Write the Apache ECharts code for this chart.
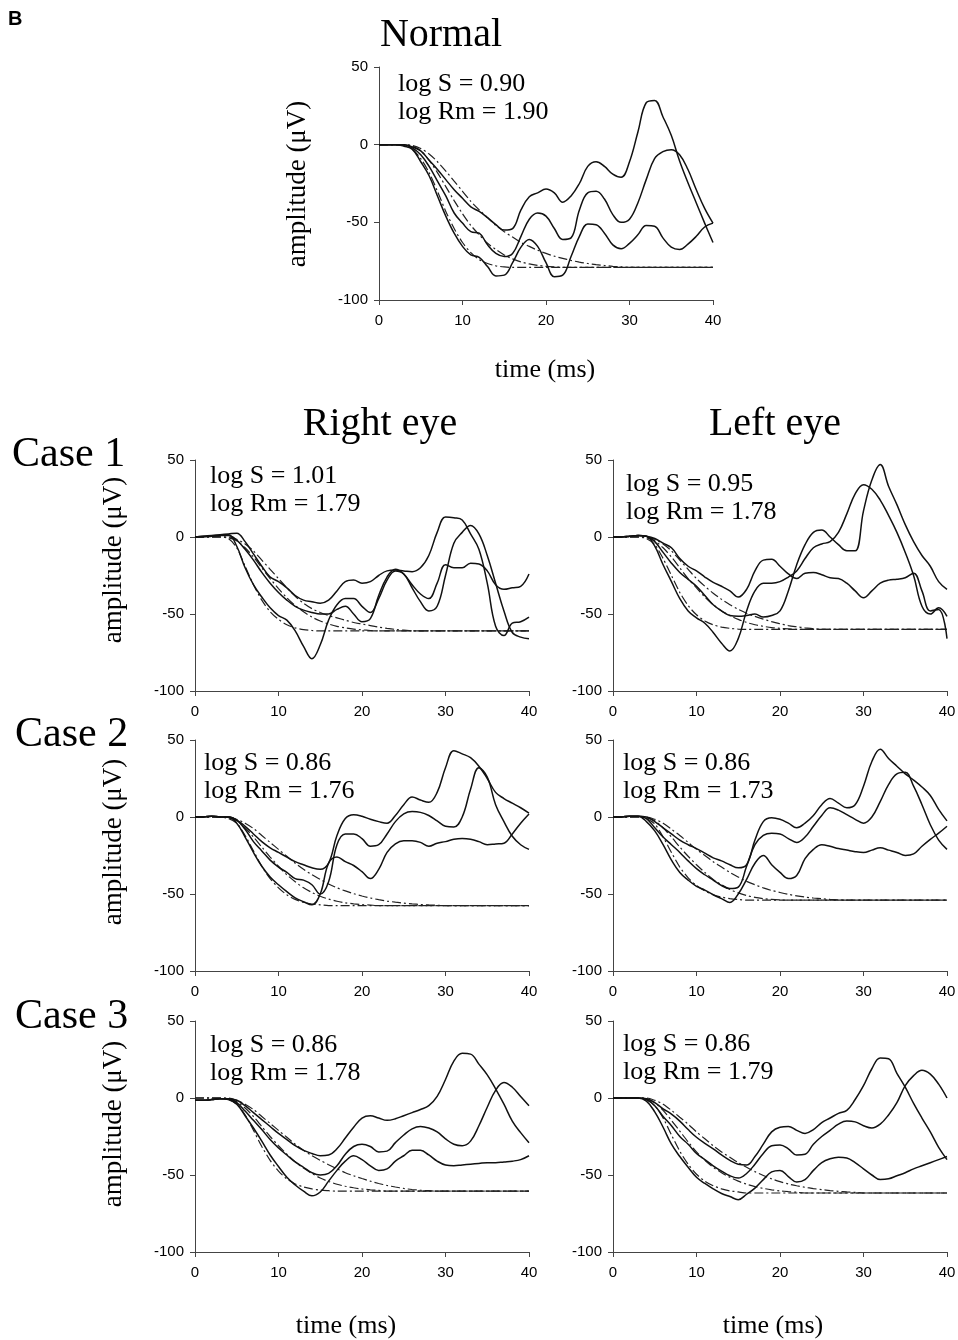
<!DOCTYPE html>
<html lang="en">
<head>
<meta charset="UTF-8">
<title>a-wave fits: normal and cases 1-3</title>
<script src="https://cdn.jsdelivr.net/npm/echarts@6/dist/echarts.min.js"></script>
<style>
  html, body { margin: 0; padding: 0; background: #fff; }
  #chart { width: 958px; height: 1340px; }
</style>
</head>
<body>
<div id="chart"></div>
<script>
  // time (ms), one sample per ms
  var timeMs = [0,1,2,3,4,5,6,7,8,9,10,11,12,13,14,15,16,17,18,19,20,
                21,22,23,24,25,26,27,28,29,30,31,32,33,34,35,36,37,38,39,40];

  // ---- Normal ----
  var normA = [0,0,0,-1,-3,-11,-20,-33,-46,-57,-65.5,-71,-72.5,-78.5,-84.5,-84,-76,-66,-61,-65.5,-76,
               -85,-84,-72,-59,-51,-51.5,-57,-64.5,-67,-63.5,-58,-52,-52.5,-60,-66,-67.5,-64,-59,-53,-50.5];
  var normB = [0,0,0,0,-2,-6.5,-14,-23.5,-33,-44,-50.5,-56,-57,-64.5,-70,-72,-70,-59,-48,-44,-46,
               -54,-61,-60,-42,-31,-30,-35,-45,-50,-48,-37.5,-22.5,-9,-4.5,-3.2,-6.5,-16,-29,-41,-50.5];
  var normC = [0,0,0,0,-1.5,-4,-10,-16,-22.5,-29,-34.5,-40,-43,-47,-51.5,-55,-54,-42,-33.5,-31,-28.5,
               -31,-37,-33,-25,-14,-11,-14,-19,-21,-11,8,27,28.5,18,6,-10.5,-24.5,-37.5,-50.5,-63];
  var normFitA = [0,0,0,-0.5,-3,-9,-18,-30,-43,-54,-63,-69.5,-74,-76.5,-78,-78.7,
                  -79,-79,-79,-79,-79,-79,-79,-79,-79,-79,-79,-79,-79,-79,-79,
                  -79,-79,-79,-79,-79,-79,-79,-79,-79,-79];
  var normFitB = [0,0,0,0,-1,-4,-10,-18,-27,-36,-44.5,-52,-58,-63.5,-67.5,-71,-73.5,-75.5,-76.8,-77.7,-78.3,-78.7,
                  -79,-79,-79,-79,-79,-79,-79,-79,-79,-79,-79,-79,-79,-79,-79,-79,-79,-79,-79];
  var normFitC = [0,0,0,0,-0.5,-2.5,-6,-11,-17,-23.5,-30,-36.5,-42,-47,-52,-56,-59.5,-63,-65.5,-68,
                  -70,-71.8,-73.2,-74.5,-75.6,-76.5,-77.2,-77.8,-78.3,-78.7,
                  -79,-79,-79,-79,-79,-79,-79,-79,-79,-79,-79];

  // ---- Case 1, right eye ----
  var c1rA = [0,0.5,0.5,1,1.5,-6,-20,-31,-39,-46,-51,-54,-61,-71,-79,-70,-54,-44,-40,-40,-45,
              -49,-40,-28,-22,-24,-33,-42,-48,-45,-25,-4,3,7.5,2,-12,-30,-48,-62,-65,-66];
  var c1rB = [0,0,0.5,1,1,-2,-8,-15,-23,-30,-36,-41,-45,-47.5,-49,-50,-50,-47,-45,-50,-55,
              -53,-38,-26,-21,-24,-31,-37,-40,-30,-18,-20,-20,-17,-17.5,-22,-31,-34,-33,-32,-24];
  var c1rC = [0,0.5,1,1.5,2,2.5,-3,-11,-19,-26,-29,-33,-38,-41,-42,-43,-41,-35,-29,-28,-30,
              -29,-25,-22,-21.5,-22,-22.5,-20,-12,3,13,12.5,11,2,-8,-30,-58,-64,-56,-55,-52];
  var c1rFitA = [0,0,0,0,-1,-7,-19,-31,-41,-48.5,-53.5,-57,-59,-60.2,-60.7,
                 -61,-61,-61,-61,-61,-61,-61,-61,-61,-61,-61,-61,-61,
                 -61,-61,-61,-61,-61,-61,-61,-61,-61,-61,-61,-61,-61];
  var c1rFitB = [0,0,0,0,-0.5,-2.5,-7,-13,-20,-27,-33.5,-39.5,-44.5,-48.5,-52,-54.5,-56.5,-58,-59,-59.8,-60.3,-60.7,
                 -61,-61,-61,-61,-61,-61,-61,-61,-61,-61,-61,-61,-61,-61,-61,-61,-61,-61,-61];
  var c1rFitC = [0,0,0,0,0,-1.5,-4.5,-9,-15,-21,-27,-33,-38.5,-43,-46.5,-49,-51,-52.5,-54,-55.5,
                 -56.5,-57.5,-58.5,-59.3,-60,-60.5,
                 -61,-61,-61,-61,-61,-61,-61,-61,-61,-61,-61,-61,-61,-61,-61];

  // ---- Case 1, left eye ----
  var c1lA = [0,0,0.5,1,0.5,-6,-18,-29,-40,-48,-52.5,-56,-62,-69,-74,-66,-48,-35,-30,-30,-29,
              -26,-22,-14,-7,-4.5,-3,3,15,28,34,31,24,14,3,-10,-25,-45,-50,-46,-51.5];
  var c1lB = [0,0,0.5,1,0.5,-3,-10,-17,-23,-27.5,-32,-38,-44,-48,-51,-51.5,-51,-50,-52,-51,-48,
              -35,-18,-5,3,4.5,0,-5,-9,-9,17,37,47,33,21,8,-3,-12,-19,-29,-34];
  var c1lC = [0,0,0.5,1,0.5,-1,-4,-7,-14,-19,-22,-26,-29.5,-32,-35,-39,-34,-22,-15,-14.5,-19,
              -24,-27,-23.5,-23,-24.5,-26.5,-27,-30,-35,-39.5,-35,-30,-28,-27.5,-26.5,-23.5,-35,-48,-47,-66];
  var c1lFitA = [0,0,0,0,-1,-5,-14,-25,-36,-44.5,-50.5,-54.5,-57,-58.5,-59.3,-59.8,
                 -60,-60,-60,-60,-60,-60,-60,-60,-60,-60,-60,-60,-60,-60,-60,
                 -60,-60,-60,-60,-60,-60,-60,-60,-60,-60];
  var c1lFitB = [0,0,0,0,-0.5,-2.5,-7,-13,-20,-27,-33,-39,-44,-48,-51,-53.5,-55.5,-57,-58,-58.8,-59.3,-59.7,
                 -60,-60,-60,-60,-60,-60,-60,-60,-60,-60,-60,-60,-60,-60,-60,-60,-60,-60,-60];
  var c1lFitC = [0,0,0,0,0,-1.5,-4.5,-9,-15,-21,-27,-32,-36.5,-40.5,-44,-47,-49.5,-51.5,-53.3,-55,
                 -56.3,-57.5,-58.3,-59,-59.5,
                 -60,-60,-60,-60,-60,-60,-60,-60,-60,-60,-60,-60,-60,-60,-60,-60];

  // ---- Case 2, right eye ----
  var c2rA = [0,0,0.5,0,0,-4,-13,-23,-32,-39,-44,-48.5,-52.5,-55,-57,-50,-30,-26,-29,-31.5,-35.5,
              -40,-34,-23,-17.5,-15.5,-15.5,-16.5,-19,-17,-16,-14.5,-14,-14.5,-16,-18,-17.5,-17,-11,-4,2];
  var c2rB = [0,0,0.5,0,0,-2,-8,-16,-22,-28,-32.5,-36,-40,-41,-44,-50,-42,-18,-11,-11,-14,
              -19,-18,-11,-3,2,3.5,3,1,-2.5,-6,-6.5,0,18,32,26,8,-3,-12.5,-18,-21];
  var c2rC = [0,0,0.5,0,0,-2,-6,-11,-16,-20,-23,-26,-29,-31,-33,-34,-30,-12,-1,1.5,0.5,
              -1.5,-3,-4,1,8,13,11,9.5,16,32,43,41,38.5,33,25,16,12,9,6,2.5];
  var c2rFitA = [0,0,0,0,-1,-4,-12,-22,-32,-40,-46,-50.5,-53.5,-55.5,-56.5,-57,
                 -57.5,-57.5,-57.5,-57.5,-57.5,-57.5,-57.5,-57.5,-57.5,-57.5,-57.5,-57.5,-57.5,-57.5,-57.5,
                 -57.5,-57.5,-57.5,-57.5,-57.5,-57.5,-57.5,-57.5,-57.5,-57.5];
  var c2rFitB = [0,0,0,0,-0.5,-2.5,-7,-13,-19.5,-26,-32,-37.5,-42,-46,-49,-51.5,-53.3,-54.7,-55.7,-56.4,-56.9,-57.2,
                 -57.5,-57.5,-57.5,-57.5,-57.5,-57.5,-57.5,-57.5,-57.5,-57.5,-57.5,-57.5,-57.5,-57.5,-57.5,
                 -57.5,-57.5,-57.5,-57.5];
  var c2rFitC = [0,0,0,0,0,-1.5,-4,-7.5,-12,-16.5,-21,-25.5,-30,-34,-37.5,-40.5,-43.5,-46,-48,-49.8,
                 -51.3,-52.6,-53.7,-54.6,-55.3,-55.9,-56.4,-56.8,-57.1,-57.3,
                 -57.5,-57.5,-57.5,-57.5,-57.5,-57.5,-57.5,-57.5,-57.5,-57.5,-57.5];

  // ---- Case 2, left eye ----
  var c2lA = [0,0,0.5,0.5,-3,-9,-18,-28,-36,-41,-45,-47.5,-50.5,-53,-55.5,-50,-40.5,-30,-25,-31,-36,
              -40,-38,-27,-21,-18,-19,-20.5,-21.5,-22.5,-23,-21.5,-20,-21.5,-23,-25,-24,-19,-14.5,-10.5,-6];
  var c2lB = [0,0,0.5,0.5,-1,-7,-13,-18,-23,-28.5,-33.5,-37.5,-41,-44.5,-46.5,-45.5,-32,-18,-12,-10.5,-11,
              -14,-16.5,-13,-6,1,6,4.5,1.5,-1.5,-4,0,10,21,28,29,20,8,-5,-15,-21];
  var c2lC = [0,0,0.5,0.5,0,-3,-7,-11,-15,-18,-20.5,-23.5,-26.5,-28.5,-31,-33,-31,-15,-3,-0.5,-1.5,
              -4,-7,-4,1,8,12,9,6,8,20,36,44,38,33,28,24,19.5,14,5,-2.5];
  var c2lFitA = [0,0,0,0,-1,-4.5,-13,-23,-32.5,-39.5,-44.5,-48,-50.5,-52,-53,-53.6,
                 -54,-54,-54,-54,-54,-54,-54,-54,-54,-54,-54,-54,-54,-54,-54,
                 -54,-54,-54,-54,-54,-54,-54,-54,-54,-54];
  var c2lFitB = [0,0,0,0,-0.5,-2.5,-7,-13,-19.5,-25.5,-31,-36,-40.5,-44,-47,-49.3,-51,-52.2,-53,-53.5,-53.8,
                 -54,-54,-54,-54,-54,-54,-54,-54,-54,-54,-54,-54,-54,-54,-54,-54,-54,-54,-54,-54];
  var c2lFitC = [0,0,0,0,0,-1.5,-4,-8,-12,-16.5,-21,-25,-29,-32.5,-36,-39,-41.8,-44,-46,-47.7,
                 -49,-50.2,-51.2,-52,-52.6,-53.1,-53.5,-53.8,
                 -54,-54,-54,-54,-54,-54,-54,-54,-54,-54,-54,-54,-54];

  // ---- Case 3, right eye ----
  var c3rA = [-1.5,-1.5,-1,-0.5,-1,-4,-11.5,-19.5,-28,-37,-44.5,-51.5,-56.5,-60.5,-63.5,-61,-54,-47,-41,-37.5,-40,
              -44,-47,-46,-41,-37.5,-34,-34,-37,-41,-43.5,-44,-43.5,-43,-42.5,-42,-42,-41.5,-41,-40,-37.5];
  var c3rB = [-1.5,-1.5,-1,-0.5,-0.5,-3,-8.5,-14.5,-20.5,-27,-32.5,-37,-41.5,-45,-48.5,-50,-49,-44,-36.5,-31.5,-30,
              -31.5,-35,-34.5,-29,-24,-20,-18.5,-19.5,-22,-26.5,-30,-31,-28,-18,-6,5,10,7,1,-5];
  var c3rC = [-1.5,-1.5,-1,-0.5,-0.5,-1.5,-5,-9.5,-14,-18.5,-23,-27,-31,-34,-36,-37.5,-37,-33,-26,-19,-13,
              -11.5,-13,-14.5,-13.5,-11.5,-9.5,-7.5,-5,1,12,24,29,28.5,22,15,6,-4,-15,-22.5,-29];
  var c3rFitA = [0,0,0,0,-1,-4,-11,-21,-31.5,-40.5,-47.5,-52.5,-55.8,-57.8,-59,-59.8,-60.2,
                 -60.5,-60.5,-60.5,-60.5,-60.5,-60.5,-60.5,-60.5,-60.5,-60.5,-60.5,-60.5,
                 -60.5,-60.5,-60.5,-60.5,-60.5,-60.5,-60.5,-60.5,-60.5,-60.5,-60.5,-60.5];
  var c3rFitB = [0,0,0,0,-0.5,-2.5,-6.5,-12,-18.5,-25,-31,-36.5,-41.5,-45.5,-49,-52,-54.2,-56,-57.3,-58.3,
                 -59.1,-59.6,-60,
                 -60.5,-60.5,-60.5,-60.5,-60.5,-60.5,-60.5,-60.5,-60.5,-60.5,-60.5,-60.5,-60.5,-60.5,-60.5,
                 -60.5,-60.5,-60.5];
  var c3rFitC = [0,0,0,0,0,-1.5,-4,-7.5,-12,-16.5,-21,-25.5,-30,-34,-37.5,-40.5,-43.3,-46,-48.5,-50.5,
                 -52.3,-54,-55.5,-56.8,-57.8,-58.7,-59.4,-59.9,-60.2,
                 -60.5,-60.5,-60.5,-60.5,-60.5,-60.5,-60.5,-60.5,-60.5,-60.5,-60.5,-60.5];

  // ---- Case 3, left eye ----
  var c3lA = [0,0,0,0,-2,-9,-19,-30,-38,-45,-51.5,-55.5,-59,-62,-64,-66,-62.5,-58.5,-53,-48,-47,
              -51,-54.5,-53,-47,-42,-39.5,-38.5,-39,-42,-46,-50,-53,-52.5,-50.5,-48.5,-46,-44,-42,-40,-38];
  var c3lB = [0,0,0,0,-1,-5,-12,-18,-25,-30,-36,-40,-44,-47.5,-50.5,-52,-49,-43,-36,-31,-30.5,
              -33,-37,-36.5,-30,-25,-21,-17,-15,-15.5,-18,-19.5,-17,-11,-3,8,14.5,18,15.5,9,0];
  var c3lC = [0,0,0,0,-0.5,-3,-7,-10.5,-15,-20.5,-25.5,-29.5,-33,-37,-40.5,-43,-43.5,-38,-30,-22,-19,
              -18.5,-21,-23,-20.5,-16,-13,-10,-8,-1,8,19,26,25.5,16,7,-3.5,-13,-22,-32,-40];
  var c3lFitA = [0,0,0,0,-1,-5,-13,-24,-34.5,-43,-49.5,-54,-57,-59,-60.3,-61,
                 -61.7,-61.7,-61.7,-61.7,-61.7,-61.7,-61.7,-61.7,-61.7,-61.7,-61.7,-61.7,-61.7,-61.7,-61.7,
                 -61.7,-61.7,-61.7,-61.7,-61.7,-61.7,-61.7,-61.7,-61.7,-61.7];
  var c3lFitB = [0,0,0,0,-0.5,-3,-8,-14.5,-21.5,-28.5,-35,-40.5,-45,-48.5,-51.5,-54,-56,-57.5,-58.7,-59.6,
                 -60.3,-60.8,-61.2,
                 -61.7,-61.7,-61.7,-61.7,-61.7,-61.7,-61.7,-61.7,-61.7,-61.7,-61.7,-61.7,-61.7,-61.7,-61.7,
                 -61.7,-61.7,-61.7];
  var c3lFitC = [0,0,0,0,0,-1.5,-4,-8,-12.5,-17,-22,-26.5,-31,-35,-38.5,-42,-45,-47.8,-50.3,-52.5,
                 -54.3,-55.8,-57,-58,-58.8,-59.5,-60.1,-60.6,-61,-61.3,
                 -61.7,-61.7,-61.7,-61.7,-61.7,-61.7,-61.7,-61.7,-61.7,-61.7,-61.7];

  // axis ticks
  var xTicks = [0, 10, 20, 30, 40];
  var yTicks = [-100, -50, 0, 50];

  // panel layout
  var panels = [
    { left: 379, top: 67,   h: 233, traces: [normA, normB, normC], fits: [normFitA, normFitB, normFitC] },
    { left: 195, top: 460,  h: 231, traces: [c1rA, c1rB, c1rC],    fits: [c1rFitA, c1rFitB, c1rFitC] },
    { left: 613, top: 460,  h: 231, traces: [c1lA, c1lB, c1lC],    fits: [c1lFitA, c1lFitB, c1lFitC] },
    { left: 195, top: 740,  h: 231, traces: [c2rA, c2rB, c2rC],    fits: [c2rFitA, c2rFitB, c2rFitC] },
    { left: 613, top: 740,  h: 231, traces: [c2lA, c2lB, c2lC],    fits: [c2lFitA, c2lFitB, c2lFitC] },
    { left: 195, top: 1021, h: 231, traces: [c3rA, c3rB, c3rC],    fits: [c3rFitA, c3rFitB, c3rFitC] },
    { left: 613, top: 1021, h: 231, traces: [c3lA, c3lB, c3lC],    fits: [c3lFitA, c3lFitB, c3lFitC] }
  ];

  function pts(arr) {
    var out = [];
    for (var i = 0; i < arr.length && i < timeMs.length; i++) out.push([timeMs[i], arr[i]]);
    return out;
  }

  var tickFont = { color: '#000', fontFamily: '"Liberation Sans", Arial, sans-serif', fontSize: 15 };
  var axisColor = '#444';
  var grids = [], xAxes = [], yAxes = [], series = [];

  panels.forEach(function (p, i) {
    grids.push({ left: p.left, top: p.top, width: 334, height: p.h, outerBoundsMode: 'none', containLabel: false });
    xAxes.push({
      type: 'value', gridIndex: i,
      min: xTicks[0], max: xTicks[xTicks.length - 1], interval: 10,
      axisLine: { onZero: false, lineStyle: { color: axisColor, width: 1 } },
      axisTick: { show: true, length: 5, lineStyle: { color: axisColor } },
      axisLabel: Object.assign({ margin: 13 }, tickFont),
      splitLine: { show: false }
    });
    yAxes.push({
      type: 'value', gridIndex: i,
      min: yTicks[0], max: yTicks[yTicks.length - 1], interval: 50,
      axisLine: { show: true, onZero: false, lineStyle: { color: axisColor, width: 1 } },
      axisTick: { show: true, length: 5, lineStyle: { color: axisColor } },
      axisLabel: Object.assign({ margin: 11 }, tickFont),
      splitLine: { show: false }
    });
    p.fits.forEach(function (arr) {
      series.push({
        type: 'line', xAxisIndex: i, yAxisIndex: i, data: pts(arr),
        symbol: 'none', smooth: 0.3, silent: true,
        lineStyle: { color: '#222', width: 1.2, type: [9, 3, 2, 3] }
      });
    });
    p.traces.forEach(function (arr) {
      series.push({
        type: 'line', xAxisIndex: i, yAxisIndex: i, data: pts(arr),
        symbol: 'none', smooth: 0.4, silent: true,
        lineStyle: { color: '#111', width: 1.5 }
      });
    });
  });

  var serif = '"Liberation Serif", "DejaVu Serif", serif';
  function txt(text, x, y, size, align, rot) {
    return {
      type: 'text', x: x, y: y, rotation: rot || 0, silent: true,
      style: {
        text: text, font: size + 'px ' + serif, fill: '#000',
        textAlign: align || 'center', textVerticalAlign: 'middle'
      }
    };
  }

  var notes = [
    ['log S = 0.90', 'log Rm = 1.90', 398, 84, 112],
    ['log S = 1.01', 'log Rm = 1.79', 210, 476, 504],
    ['log S = 0.95', 'log Rm = 1.78', 626, 484, 512],
    ['log S = 0.86', 'log Rm = 1.76', 204, 763, 791],
    ['log S = 0.86', 'log Rm = 1.73', 623, 763, 791],
    ['log S = 0.86', 'log Rm = 1.78', 210, 1045, 1073],
    ['log S = 0.86', 'log Rm = 1.79', 623, 1044, 1072]
  ];

  var graphics = [
    { type: 'text', x: 8, y: 19, silent: true,
      style: { text: 'B', font: 'bold 20px "Liberation Sans", Arial, sans-serif', fill: '#000', textAlign: 'left', textVerticalAlign: 'middle' } },
    txt('Normal', 441, 35, 40),
    txt('Right eye', 380, 424, 40),
    txt('Left eye', 775, 424, 40),
    txt('Case 1', 12, 455, 42, 'left'),
    txt('Case 2', 15, 735, 42, 'left'),
    txt('Case 3', 15, 1017, 42, 'left'),
    txt('amplitude (\u03bcV)', 298, 184, 27, 'center', Math.PI / 2),
    txt('amplitude (\u03bcV)', 114, 560, 27, 'center', Math.PI / 2),
    txt('amplitude (\u03bcV)', 114, 842, 27, 'center', Math.PI / 2),
    txt('amplitude (\u03bcV)', 114, 1124, 27, 'center', Math.PI / 2),
    txt('time (ms)', 545, 370, 26),
    txt('time (ms)', 346, 1326, 26),
    txt('time (ms)', 773, 1326, 26)
  ];
  notes.forEach(function (n) {
    graphics.push(txt(n[0], n[2], n[3], 26, 'left'));
    graphics.push(txt(n[1], n[2], n[4], 26, 'left'));
  });

  var chart = echarts.init(document.getElementById('chart'), null, { renderer: 'canvas' });
  chart.setOption({
    animation: false,
    backgroundColor: '#fff',
    grid: grids,
    xAxis: xAxes,
    yAxis: yAxes,
    series: series,
    graphic: graphics
  });
</script>
</body>
</html>
